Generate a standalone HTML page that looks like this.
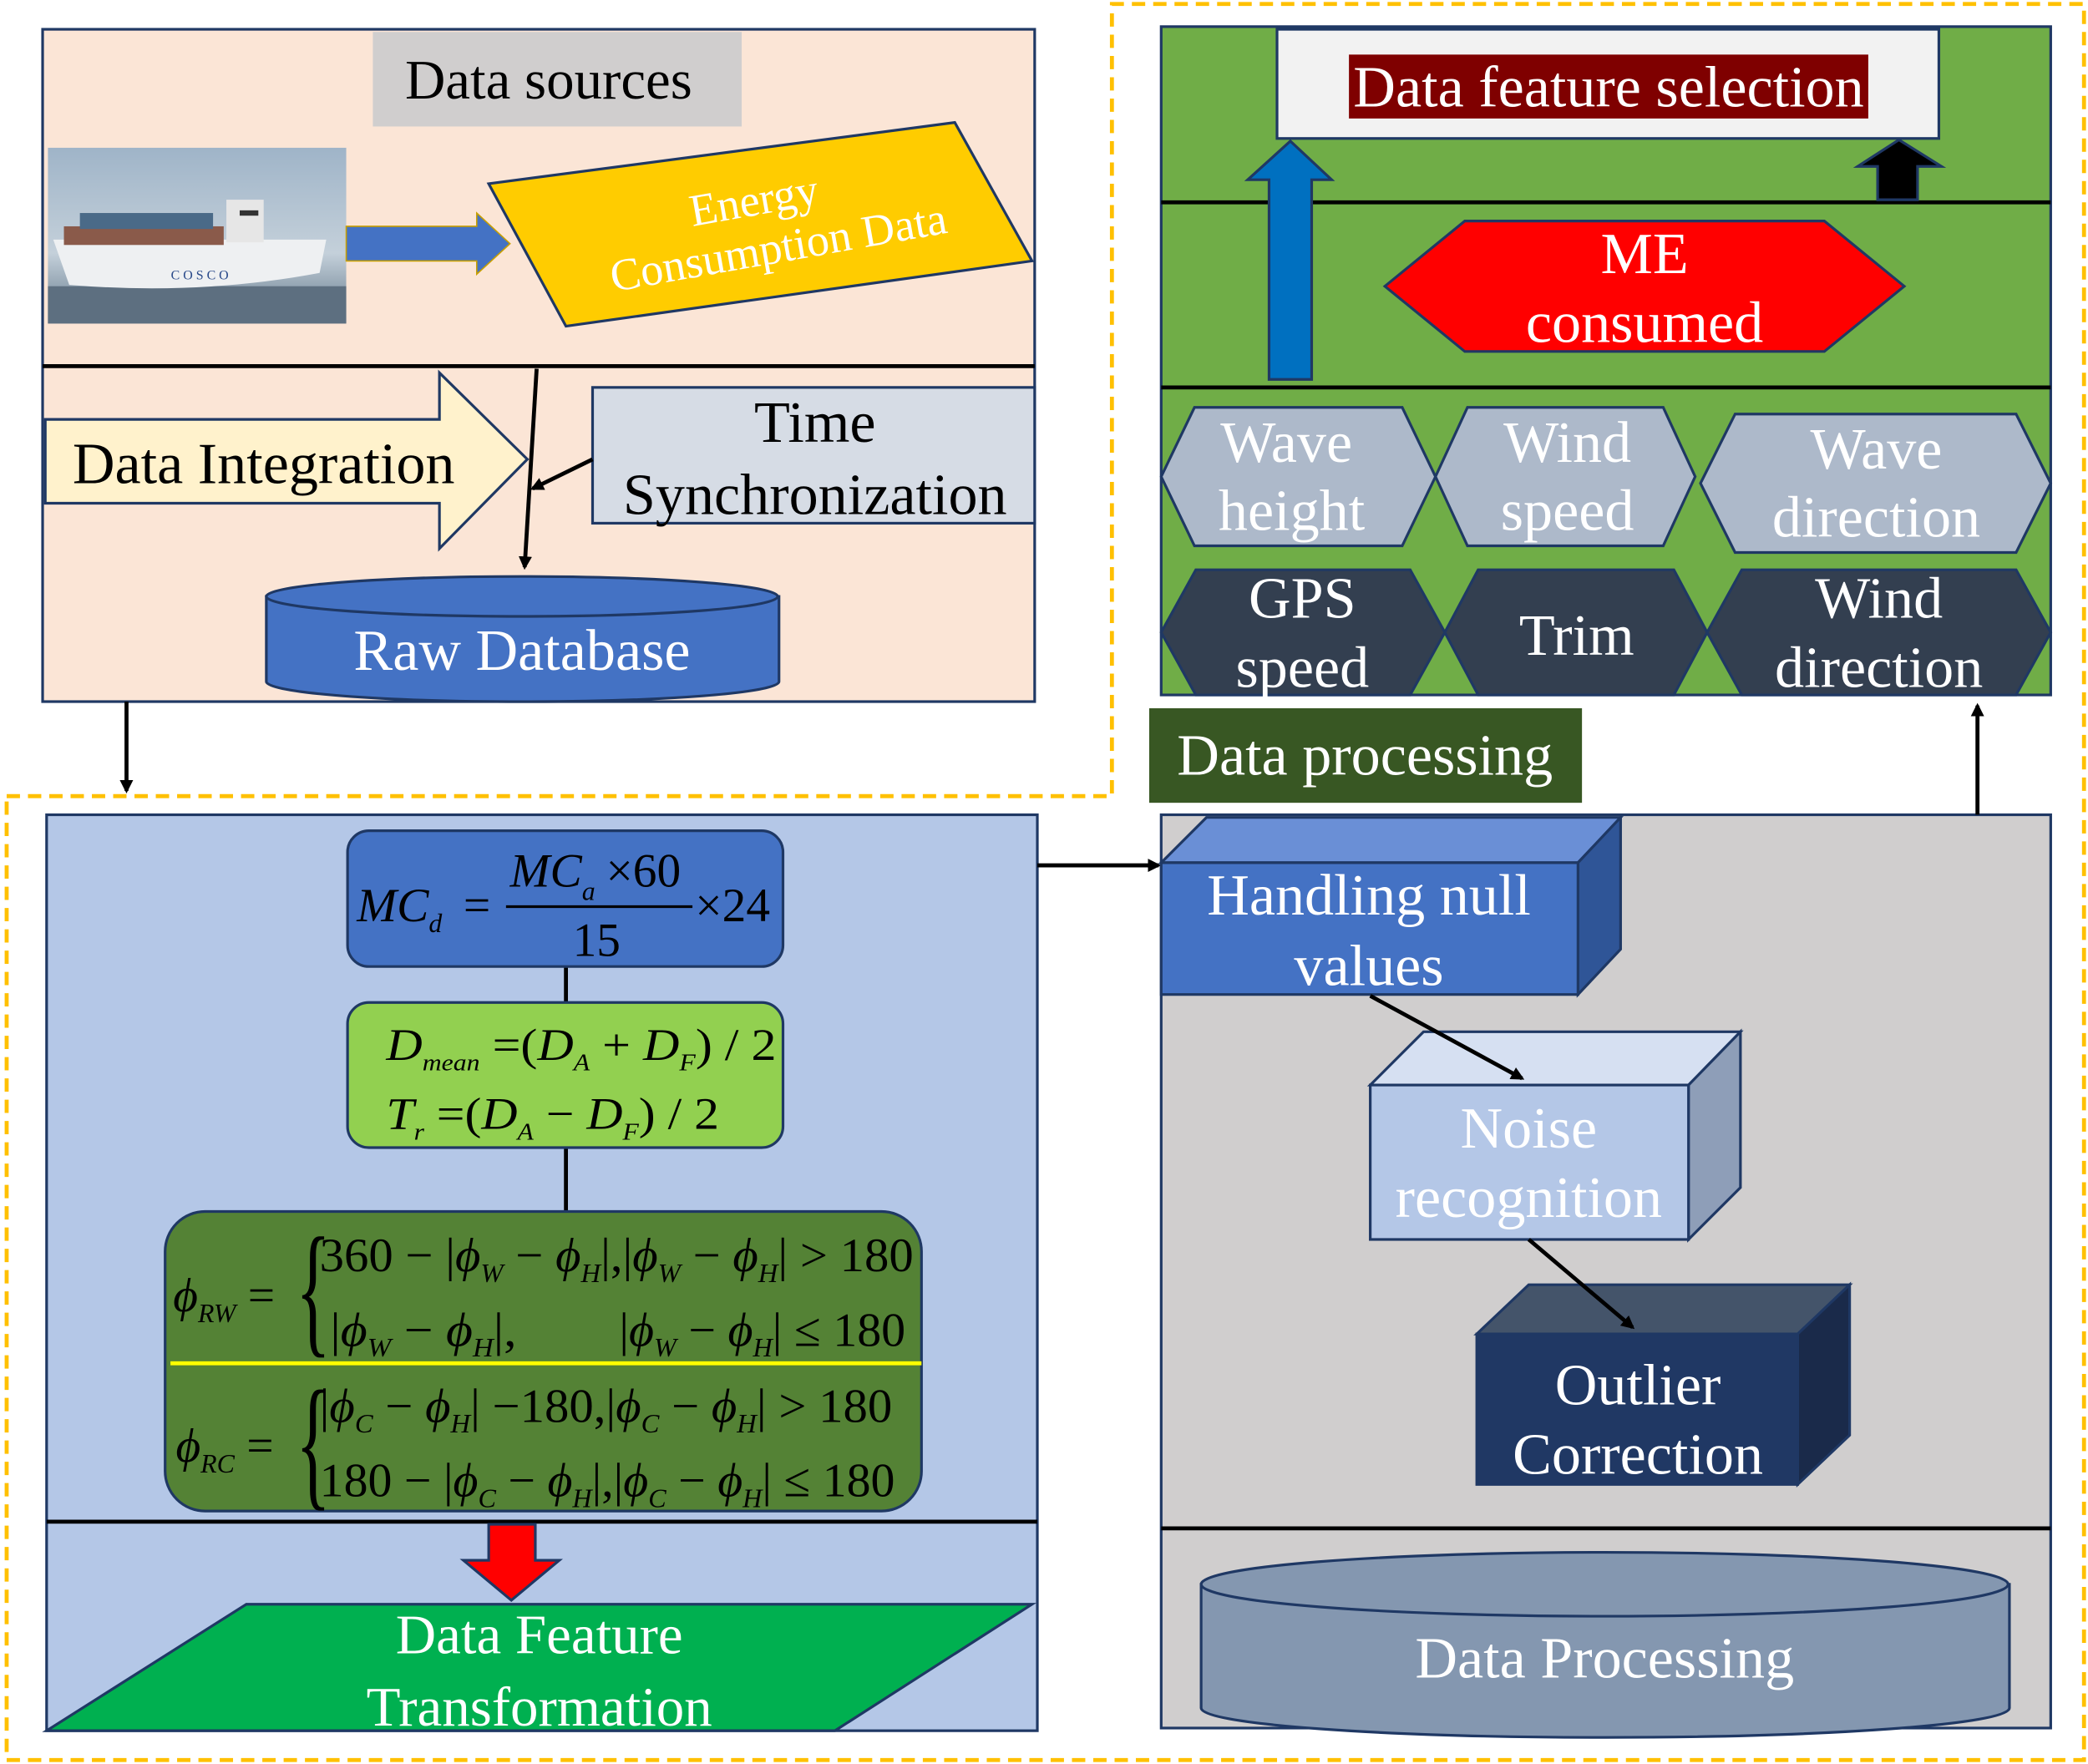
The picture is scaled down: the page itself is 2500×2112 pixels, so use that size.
<!DOCTYPE html>
<html><head><meta charset="utf-8"><style>
html,body{margin:0;padding:0;background:#fff}
svg{display:block}
text{font-family:"Liberation Serif",serif}
.it{font-style:italic}
</style></head><body>
<svg width="2500" height="2112" viewBox="0 0 1568 1325" preserveAspectRatio="none" xmlns="http://www.w3.org/2000/svg">
<defs>
<marker id="ah" markerWidth="10" markerHeight="10" refX="8" refY="5" orient="auto" markerUnits="userSpaceOnUse"><path d="M0,0 L10,5 L0,10 z" fill="#000"/></marker>
<linearGradient id="sky" x1="0" y1="0" x2="0" y2="1"><stop offset="0" stop-color="#9fb4c8"/><stop offset="0.6" stop-color="#c4d0da"/><stop offset="1" stop-color="#5f7588"/></linearGradient>
</defs>

<path d="M5,598 L835,598 L835,3 L1565,3 L1565,1322 L5,1322 Z" fill="none" stroke="#ffc000" stroke-width="3" stroke-dasharray="10,6"/>

<rect x="32" y="22" width="745" height="505" fill="#fbe5d6" stroke="#1f3864" stroke-width="2"/>
<line x1="32" y1="275" x2="777" y2="275" stroke="#000" stroke-width="3"/>
<rect x="280" y="24" width="277" height="71" fill="#d0cece"/>
<text x="412" y="74" font-size="42" text-anchor="middle">Data sources</text>
<rect x="36" y="111" width="224" height="132" fill="url(#sky)"/>
<rect x="36" y="215" width="224" height="28" fill="#5d6f80"/>
<path d="M40,180 L245,180 L240,205 Q150,222 52,214 Z" fill="#eef0f2"/>
<rect x="48" y="170" width="120" height="14" fill="#8a5a4a"/>
<rect x="60" y="160" width="100" height="12" fill="#4a6a88"/>
<rect x="170" y="150" width="28" height="32" fill="#e6e6e6"/>
<rect x="180" y="158" width="14" height="4" fill="#333"/>
<text x="150" y="210" font-size="10" fill="#2a4a8a" text-anchor="middle" font-family="Liberation Sans">C O S C O</text>
<path d="M260,170 L358,170 L358,160 L383,183 L358,206 L358,196 L260,196 Z" fill="#4472c4" stroke="#c9a000" stroke-width="1"/>
<polygon points="367,138 717,92 775,196 425,245" fill="#ffcc00" stroke="#1f3864" stroke-width="2"/>
<g transform="rotate(-10 578 172)"><text x="570" y="160" font-size="34" fill="#fff" text-anchor="middle">Energy</text><text x="582" y="198" font-size="34" fill="#fff" text-anchor="middle">Consumption Data</text></g>
<path d="M34,315 L330,315 L330,280 L396,345 L330,412 L330,378 L34,378 Z" fill="#fff2cc" stroke="#1f3864" stroke-width="2"/>
<text x="198" y="363" font-size="44" text-anchor="middle">Data Integration</text>
<rect x="445" y="291" width="332" height="102" fill="#d6dce5" stroke="#1f3864" stroke-width="2"/>
<text x="612" y="332" font-size="44" text-anchor="middle">Time</text>
<text x="612" y="386" font-size="44" text-anchor="middle">Synchronization</text>
<line x1="403" y1="277" x2="394" y2="426" stroke="#000" stroke-width="3" marker-end="url(#ah)"/>
<line x1="445" y1="345" x2="400" y2="367" stroke="#000" stroke-width="3" marker-end="url(#ah)"/>
<path d="M200,448 L200,512 A192,15 0 0 0 585,512 L585,448 Z" fill="#4472c4" stroke="#1f3864" stroke-width="2"/>
<ellipse cx="392" cy="448" rx="192" ry="15" fill="#4472c4" stroke="#1f3864" stroke-width="2"/>
<text x="392" y="503" font-size="44" fill="#fff" text-anchor="middle">Raw Database</text>
<line x1="95" y1="527" x2="95" y2="594" stroke="#000" stroke-width="3" marker-end="url(#ah)"/>

<rect x="35" y="612" width="744" height="688" fill="#b4c7e7" stroke="#1f3864" stroke-width="2"/>
<line x1="35" y1="1143" x2="779" y2="1143" stroke="#000" stroke-width="3"/>
<line x1="425" y1="726" x2="425" y2="753" stroke="#000" stroke-width="3"/>
<line x1="425" y1="862" x2="425" y2="910" stroke="#000" stroke-width="3"/>
<rect x="261" y="624" width="327" height="102" rx="16" fill="#4472c4" stroke="#1f3864" stroke-width="2"/>
<text x="268" y="692" font-size="36" class="it">MC</text><text x="322" y="700" font-size="20" class="it">d</text>
<text x="348" y="692" font-size="36">=</text>
<text x="383" y="666" font-size="36" class="it">MC</text><text x="437" y="676" font-size="20" class="it">a</text><text x="455" y="666" font-size="36">×60</text>
<line x1="380" y1="681" x2="520" y2="681" stroke="#000" stroke-width="2"/>
<text x="430" y="718" font-size="36">15</text>
<text x="522" y="692" font-size="36">×24</text>
<rect x="261" y="753" width="327" height="109" rx="16" fill="#92d050" stroke="#1f3864" stroke-width="2"/>
<text x="290" y="796" font-size="34" textLength="293" lengthAdjust="spacingAndGlyphs"><tspan class="it">D</tspan><tspan font-size="18" dy="8" class="it">mean</tspan><tspan dy="-8"> =(</tspan><tspan class="it">D</tspan><tspan font-size="18" dy="8" class="it">A</tspan><tspan dy="-8"> + </tspan><tspan class="it">D</tspan><tspan font-size="18" dy="8" class="it">F</tspan><tspan dy="-8">) / 2</tspan></text>
<text x="290" y="848" font-size="34" textLength="250" lengthAdjust="spacingAndGlyphs"><tspan class="it">T</tspan><tspan font-size="18" dy="8" class="it">r</tspan><tspan dy="-8"> =(</tspan><tspan class="it">D</tspan><tspan font-size="18" dy="8" class="it">A</tspan><tspan dy="-8"> − </tspan><tspan class="it">D</tspan><tspan font-size="18" dy="8" class="it">F</tspan><tspan dy="-8">) / 2</tspan></text>
<rect x="124" y="910" width="568" height="225" rx="30" fill="#548235" stroke="#1f3864" stroke-width="2"/>
<line x1="128" y1="1024" x2="692" y2="1024" stroke="#ffff00" stroke-width="3"/>
<text x="130" y="985" font-size="36"><tspan class="it">ϕ</tspan><tspan font-size="20" dy="8" class="it">RW</tspan><tspan dy="-8"> =</tspan></text>
<text x="222" y="1005" font-size="110" transform="scale(0.5,1) translate(222,0)">{</text>
<text x="240" y="955" font-size="36" textLength="446" lengthAdjust="spacingAndGlyphs">360 − |<tspan class="it">ϕ</tspan><tspan class="it" font-size="20" dy="8">W</tspan><tspan dy="-8"> − </tspan><tspan class="it">ϕ</tspan><tspan class="it" font-size="20" dy="8">H</tspan><tspan dy="-8">|,|</tspan><tspan class="it">ϕ</tspan><tspan class="it" font-size="20" dy="8">W</tspan><tspan dy="-8"> − </tspan><tspan class="it">ϕ</tspan><tspan class="it" font-size="20" dy="8">H</tspan><tspan dy="-8">| &gt; 180</tspan></text>
<text x="248" y="1011" font-size="36" textLength="140" lengthAdjust="spacingAndGlyphs">|<tspan class="it">ϕ</tspan><tspan class="it" font-size="20" dy="8">W</tspan><tspan dy="-8"> − </tspan><tspan class="it">ϕ</tspan><tspan class="it" font-size="20" dy="8">H</tspan><tspan dy="-8">|,</tspan></text>
<text x="465" y="1011" font-size="36" textLength="215" lengthAdjust="spacingAndGlyphs">|<tspan class="it">ϕ</tspan><tspan class="it" font-size="20" dy="8">W</tspan><tspan dy="-8"> − </tspan><tspan class="it">ϕ</tspan><tspan class="it" font-size="20" dy="8">H</tspan><tspan dy="-8">| ≤ 180</tspan></text>
<text x="132" y="1098" font-size="36"><tspan class="it">ϕ</tspan><tspan font-size="20" dy="8" class="it">RC</tspan><tspan dy="-8"> =</tspan></text>
<text x="222" y="1120" font-size="110" transform="scale(0.5,1) translate(222,0)">{</text>
<text x="240" y="1068" font-size="36" textLength="430" lengthAdjust="spacingAndGlyphs">|<tspan class="it">ϕ</tspan><tspan class="it" font-size="20" dy="8">C</tspan><tspan dy="-8"> − </tspan><tspan class="it">ϕ</tspan><tspan class="it" font-size="20" dy="8">H</tspan><tspan dy="-8">| −180,|</tspan><tspan class="it">ϕ</tspan><tspan class="it" font-size="20" dy="8">C</tspan><tspan dy="-8"> − </tspan><tspan class="it">ϕ</tspan><tspan class="it" font-size="20" dy="8">H</tspan><tspan dy="-8">| &gt; 180</tspan></text>
<text x="240" y="1124" font-size="36" textLength="432" lengthAdjust="spacingAndGlyphs">180 − |<tspan class="it">ϕ</tspan><tspan class="it" font-size="20" dy="8">C</tspan><tspan dy="-8"> − </tspan><tspan class="it">ϕ</tspan><tspan class="it" font-size="20" dy="8">H</tspan><tspan dy="-8">|,|</tspan><tspan class="it">ϕ</tspan><tspan class="it" font-size="20" dy="8">C</tspan><tspan dy="-8"> − </tspan><tspan class="it">ϕ</tspan><tspan class="it" font-size="20" dy="8">H</tspan><tspan dy="-8">| ≤ 180</tspan></text>
<path d="M367,1145 L402,1145 L402,1172 L420,1172 L384,1202 L348,1172 L367,1172 Z" fill="#ff0000" stroke="#1f3864" stroke-width="2"/>
<polygon points="185,1205 775,1205 627,1300 35,1300" fill="#00b050" stroke="#1f3864" stroke-width="2"/>
<text x="405" y="1242" font-size="42" fill="#fff" text-anchor="middle">Data Feature</text>
<text x="405" y="1296" font-size="42" fill="#fff" text-anchor="middle">Transformation</text>
<line x1="779" y1="650" x2="870" y2="650" stroke="#000" stroke-width="3" marker-end="url(#ah)"/>

<rect x="872" y="612" width="668" height="686" fill="#d0cece" stroke="#1f3864" stroke-width="2"/>
<line x1="872" y1="1148" x2="1540" y2="1148" stroke="#000" stroke-width="3"/>
<polygon points="872,648 906,614 1217,614 1185,648" fill="#6a8fd6" stroke="#1f3864" stroke-width="2"/>
<polygon points="1185,648 1217,614 1217,713 1185,747" fill="#2f5597" stroke="#1f3864" stroke-width="2"/>
<rect x="872" y="648" width="313" height="99" fill="#4472c4" stroke="#1f3864" stroke-width="2"/>
<text x="1028" y="687" font-size="44" fill="#fff" text-anchor="middle">Handling null</text>
<text x="1028" y="740" font-size="44" fill="#fff" text-anchor="middle">values</text>
<polygon points="1029,815 1069,775 1307,775 1268,815" fill="#d6e0f2" stroke="#1f3864" stroke-width="2"/>
<polygon points="1268,815 1307,775 1307,892 1268,931" fill="#8e9eb8" stroke="#1f3864" stroke-width="2"/>
<rect x="1029" y="815" width="239" height="116" fill="#b4c7e7" stroke="#1f3864" stroke-width="2"/>
<text x="1148" y="862" font-size="44" fill="#fff" text-anchor="middle">Noise</text>
<text x="1148" y="914" font-size="44" fill="#fff" text-anchor="middle">recognition</text>
<polygon points="1109,1002 1148,965 1389,965 1350,1002" fill="#44546a" stroke="#1f3864" stroke-width="2"/>
<polygon points="1350,1002 1389,965 1389,1078 1350,1115" fill="#1a2a4a" stroke="#1f3864" stroke-width="2"/>
<rect x="1109" y="1002" width="241" height="113" fill="#203864" stroke="#1f3864" stroke-width="2"/>
<text x="1230" y="1055" font-size="44" fill="#fff" text-anchor="middle">Outlier</text>
<text x="1230" y="1107" font-size="44" fill="#fff" text-anchor="middle">Correction</text>
<line x1="1029" y1="748" x2="1143" y2="810" stroke="#000" stroke-width="3" marker-end="url(#ah)"/>
<line x1="1148" y1="931" x2="1226" y2="997" stroke="#000" stroke-width="3" marker-end="url(#ah)"/>
<path d="M902,1190 L902,1283 A303,22 0 0 0 1509,1283 L1509,1190 Z" fill="#8497b0" stroke="#1f3864" stroke-width="2"/>
<ellipse cx="1205" cy="1190" rx="303" ry="24" fill="#8497b0" stroke="#1f3864" stroke-width="2"/>
<text x="1205" y="1260" font-size="44" fill="#fff" text-anchor="middle">Data Processing</text>
<rect x="863" y="532" width="325" height="71" fill="#385723"/>
<text x="1025" y="582" font-size="44" fill="#fff" text-anchor="middle">Data processing</text>
<line x1="1485" y1="612" x2="1485" y2="530" stroke="#000" stroke-width="3" marker-end="url(#ah)"/>

<rect x="872" y="20" width="668" height="502" fill="#70ad47" stroke="#1f3864" stroke-width="2"/>
<line x1="872" y1="152" x2="1540" y2="152" stroke="#000" stroke-width="3"/>
<line x1="872" y1="291" x2="1540" y2="291" stroke="#000" stroke-width="3"/>
<rect x="959" y="22" width="497" height="82" fill="#f2f2f2" stroke="#1f3864" stroke-width="2"/>
<rect x="1013" y="41" width="390" height="48" fill="#7f0000"/>
<text x="1208" y="80" font-size="44" fill="#fff" text-anchor="middle">Data feature selection</text>
<path d="M953,285 L985,285 L985,135 L1000,135 L969,106 L937,135 L953,135 Z" fill="#0070c0" stroke="#1f3864" stroke-width="2"/>
<path d="M1410,150 L1440,150 L1440,125 L1458,125 L1426,105 L1395,125 L1410,125 Z" fill="#000" stroke="#1f3864" stroke-width="2"/>
<polygon points="1040,215 1100,166 1370,166 1430,215 1370,264 1100,264" fill="#ff0000" stroke="#1f3864" stroke-width="2"/>
<text x="1235" y="205" font-size="44" fill="#fff" text-anchor="middle">ME</text>
<text x="1235" y="257" font-size="44" fill="#fff" text-anchor="middle">consumed</text>
<g stroke="#1f3864" stroke-width="2">
<polygon points="872,358 897,306 1053,306 1078,358 1053,410 897,410" fill="#adb9ca"/>
<polygon points="1078,358 1102,306 1249,306 1273,358 1249,410 1102,410" fill="#adb9ca"/>
<polygon points="1277,363 1303,311 1514,311 1540,363 1514,415 1303,415" fill="#adb9ca"/>
<polygon points="872,475 898,428 1059,428 1085,475 1059,522 898,522" fill="#333f50"/>
<polygon points="1085,475 1110,428 1257,428 1282,475 1257,522 1110,522" fill="#333f50"/>
<polygon points="1282,475 1308,428 1514,428 1540,475 1514,522 1308,522" fill="#333f50"/>
</g>
<g font-size="44" fill="#fff" text-anchor="middle">
<text x="966" y="347">Wave</text><text x="970" y="398">height</text>
<text x="1177" y="347">Wind</text><text x="1177" y="398">speed</text>
<text x="1409" y="352">Wave</text><text x="1409" y="403">direction</text>
<text x="978" y="464">GPS</text><text x="978" y="516">speed</text>
<text x="1184" y="492">Trim</text>
<text x="1411" y="464">Wind</text><text x="1411" y="516">direction</text>
</g>
</svg>
</body></html>
